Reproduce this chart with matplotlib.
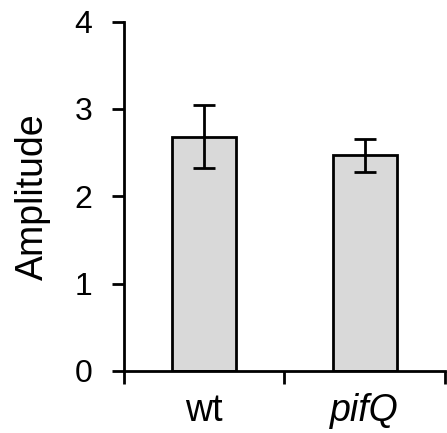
import numpy as np
import matplotlib.pyplot as plt

plt.rcParams["font.family"] = ["Liberation Sans", "DejaVu Sans"]

# datos
cepas = ["wt", "pifQ"]
amplitud = [2.68, 2.47]
error = [0.36, 0.19]
yticks = [0, 1, 2, 3, 4]

fig = plt.figure(figsize=(4.47, 4.33), dpi=100)
ax = fig.add_axes([0.2774, 0.1432, 0.7181, 0.8068])

x = np.arange(len(cepas))
ax.bar(x, amplitud, width=0.4, color="#d9d9d9", edgecolor="black", linewidth=2.0,
       yerr=error, capsize=8, error_kw=dict(elinewidth=2.0, capthick=2.0, ecolor="black"),
       zorder=2)

ax.set_xlim(-0.5, len(cepas) - 0.5)
ax.set_ylim(0, 4)
ax.set_yticks(yticks)
ax.set_yticklabels([str(t) for t in yticks], fontsize=23)
ax.tick_params(axis="y", direction="out", length=9, width=2.0, pad=14)

# etiquetas de categoria centradas, ticks en los bordes
ax.set_xticks(x)
ax.set_xticklabels(cepas, fontsize=27)
ax.get_xticklabels()[1].set_style("italic")
ax.tick_params(axis="x", which="major", length=0, pad=16)
ax.set_xticks(np.arange(len(cepas) + 1) - 0.5, minor=True)
ax.tick_params(axis="x", which="minor", direction="out", length=9, width=2.0)

for s in ["top", "right"]:
    ax.spines[s].set_visible(False)
for s in ["left", "bottom"]:
    ax.spines[s].set_linewidth(2.0)

ax.set_ylabel("Amplitude", fontsize=27, labelpad=17)

plt.savefig("out.png", dpi=100)
